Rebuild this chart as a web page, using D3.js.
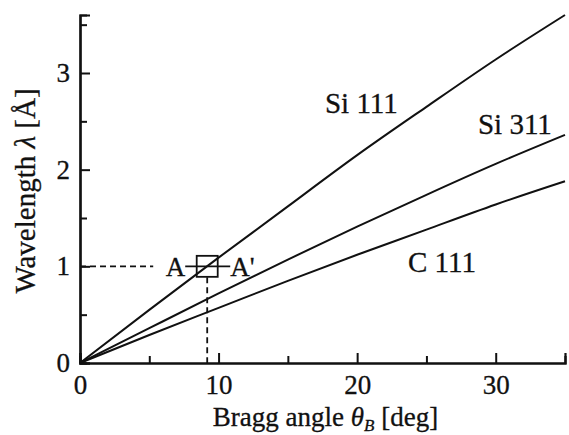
<!DOCTYPE html>
<html>
<head>
<meta charset="utf-8">
<script src="https://cdn.jsdelivr.net/npm/d3@7"></script>
<style>
  body { margin: 0; background: #fff; }
  text { font-family: "Liberation Serif", "DejaVu Serif", serif; fill: #111; stroke: #111; stroke-width: 0.3px; }
</style>
</head>
<body>
<script>
// values
var angles = [0, 5, 10, 15, 20, 25, 30, 35];
var si111 = [0, 0.55, 1.09, 1.62, 2.15, 2.65, 3.14, 3.60];
var si311 = [0, 0.36, 0.72, 1.07, 1.41, 1.74, 2.06, 2.36];
var c111 = [0, 0.29, 0.57, 0.85, 1.12, 1.38, 1.64, 1.88];
var seriesNames = ["Si 111", "Si 311", "C 111"];
var xMajor = [0, 10, 20, 30];
var xMinor = [5, 15, 25];
var yMajor = [0, 1, 2, 3];
var yMinor = [0.5, 1.5, 2.5, 3.5];
var markAngle = 9.18, markLambda = 1;

var svgWidth = 569, svgHeight = 435;
var margin = { top: 15, right: 4, bottom: 72, left: 80 };
var width = svgWidth - margin.left - margin.right;
var height = svgHeight - margin.top - margin.bottom;

var svg = d3.select("body").append("svg")
    .attr("width", svgWidth)
    .attr("height", svgHeight);

var g = svg.append("g")
    .attr("transform", `translate(${margin.left}, ${margin.top})`);

var x = d3.scaleLinear().domain([0, 35]).range([0, width]);
var y = d3.scaleLinear().domain([0, 3.6]).range([height, 0]);

// axes with inward ticks
var xAxis = g.append("g").attr("transform", `translate(0, ${height})`);
xAxis.call(d3.axisBottom(x).tickValues(xMajor).tickSize(-10).tickPadding(12).tickFormat(d3.format("d")));
xAxis.append("g").call(d3.axisBottom(x).tickValues(xMinor).tickSize(-7).tickFormat(""));

var yAxis = g.append("g");
yAxis.call(d3.axisLeft(y).tickValues(yMajor).tickSize(-10).tickPadding(10).tickFormat(d3.format("d")));
yAxis.append("g").call(d3.axisLeft(y).tickValues(yMinor).tickSize(-7).tickFormat(""));

g.selectAll(".domain").attr("stroke", "#111").attr("stroke-width", 2.2);
g.selectAll(".tick line").attr("stroke", "#111").attr("stroke-width", 2);
g.selectAll(".tick text").attr("font-size", 27).attr("fill", "#111")
    .attr("font-family", "Liberation Serif, serif");
xAxis.selectAll(".tick text").attr("dy", "0.71em");
// hide the duplicate minor domain paths
xAxis.select("g").select(".domain").remove();
yAxis.select("g").select(".domain").remove();

// curves
var line = d3.line()
    .x((d, i) => x(angles[i]))
    .y(d => y(d))
    .curve(d3.curveNatural);

[si111, si311, c111].forEach(function (s) {
    g.append("path")
        .datum(s)
        .attr("fill", "none")
        .attr("stroke", "#111")
        .attr("stroke-width", 2)
        .attr("d", line);
});

// curve labels
var labels = [
    { t: seriesNames[0], ang: 17.68, lam: 2.586 },
    { t: seriesNames[1], ang: 28.72, lam: 2.369 },
    { t: seriesNames[2], ang: 23.67, lam: 0.941 }
];
g.selectAll(".clabel").data(labels).enter().append("text")
    .attr("class", "clabel")
    .attr("x", d => x(d.ang))
    .attr("y", d => y(d.lam))
    .attr("font-size", 29)
    .text(d => d.t);

// A - A' marker
var mx = x(markAngle), my = y(markLambda);
g.append("line")
    .attr("x1", 0).attr("x2", mx - 54)
    .attr("y1", my).attr("y2", my)
    .attr("stroke", "#111").attr("stroke-width", 1.8)
    .attr("stroke-dasharray", "6,4");
g.append("line")
    .attr("x1", mx).attr("x2", mx)
    .attr("y1", my + 11).attr("y2", height)
    .attr("stroke", "#111").attr("stroke-width", 1.8)
    .attr("stroke-dasharray", "6,4");
g.append("line")
    .attr("x1", mx - 22).attr("x2", mx + 23)
    .attr("y1", my).attr("y2", my)
    .attr("stroke", "#111").attr("stroke-width", 1.8);
g.append("rect")
    .attr("x", mx - 10.5).attr("y", my - 10.5)
    .attr("width", 21).attr("height", 21)
    .attr("fill", "none")
    .attr("stroke", "#111").attr("stroke-width", 1.8);
g.append("text")
    .attr("x", mx - 22).attr("y", my)
    .attr("dy", "0.35em")
    .attr("text-anchor", "end")
    .attr("font-size", 27)
    .text("A");
g.append("text")
    .attr("x", mx + 23).attr("y", my)
    .attr("dy", "0.35em")
    .attr("font-size", 27)
    .text("A'");

// axis titles
var xt = g.append("text")
    .attr("x", width / 2 + 3)
    .attr("y", height + 63)
    .attr("text-anchor", "middle")
    .attr("font-size", 27);
xt.append("tspan").text("Bragg angle ");
xt.append("tspan").attr("font-style", "italic").text("θ");
xt.append("tspan").attr("font-style", "italic").attr("font-size", 17).attr("dy", 5).text("B");
xt.append("tspan").attr("dy", -5).text(" [deg]");

var yt = g.append("text")
    .attr("transform", `translate(${-45}, ${height / 2 + 2}) rotate(-90)`)
    .attr("text-anchor", "middle")
    .attr("font-size", 29);
yt.append("tspan").text("Wavelength ");
yt.append("tspan").attr("font-style", "italic").text("λ");
yt.append("tspan").text(" [Å]");
</script>
</body>
</html>
